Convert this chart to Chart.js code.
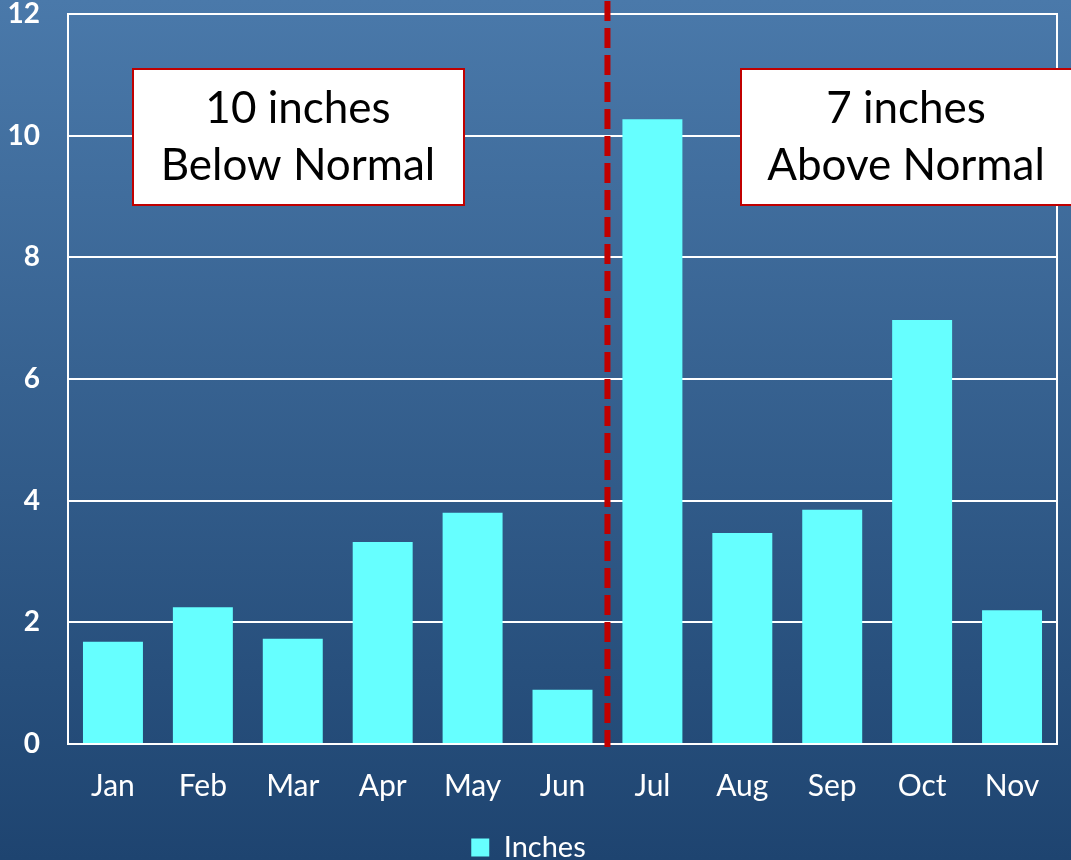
<!DOCTYPE html>
<html>
<head>
<meta charset="utf-8">
<script src="https://cdn.jsdelivr.net/npm/chart.js@4/dist/chart.umd.min.js"></script>
<style>
  html, body { margin: 0; padding: 0; }
  #wrap { width: 1071px; height: 860px; }
</style>
</head>
<body>
<div id="wrap"><canvas id="chart" width="1071" height="860"></canvas></div>
<script>
const months = ['Jan', 'Feb', 'Mar', 'Apr', 'May', 'Jun', 'Jul', 'Aug', 'Sep', 'Oct', 'Nov'];
const inches = [1.68, 2.25, 1.73, 3.32, 3.80, 0.89, 10.27, 3.47, 3.85, 6.97, 2.20];
const yTicks = [0, 2, 4, 6, 8, 10, 12];
const boxLines = [
  ['10 inches', 'Below Normal'],
  ['7 inches', 'Above Normal'],
];

const FONT = 'Lato, "Open Sans", sans-serif';

// gradient background, frame, divider and text boxes
const decor = {
  id: 'decor',
  beforeDraw(chart) {
    const { ctx, width, height } = chart;
    const g = ctx.createLinearGradient(0, 0, 0, height);
    g.addColorStop(0, '#4a79aa');
    g.addColorStop(1, '#1e4470');
    ctx.save();
    ctx.fillStyle = g;
    ctx.fillRect(0, 0, width, height);
    ctx.restore();
  },
  afterDraw(chart) {
    const { ctx, chartArea: a } = chart;
    const x = chart.scales.x;
    ctx.save();
    ctx.strokeStyle = '#ffffff';
    ctx.lineWidth = 2;
    ctx.beginPath();
    ctx.moveTo(a.left, a.top);
    ctx.lineTo(a.right, a.top);
    ctx.lineTo(a.right, a.bottom);
    ctx.stroke();

    // dashed split between Jun and Jul
    const xs = (x.getPixelForValue(5) + x.getPixelForValue(6)) / 2;
    ctx.strokeStyle = '#c00000';
    ctx.lineWidth = 6;
    ctx.setLineDash([20, 7]);
    ctx.beginPath();
    ctx.moveTo(xs, 1);
    ctx.lineTo(xs, a.bottom + 3);
    ctx.stroke();
    ctx.setLineDash([]);

    const boxes = [
      { l: 133, t: 69, w: 331, h: 136, cx: 298 },
      { l: 741, t: 69, w: 340, h: 136, cx: 906 },
    ];
    boxes.forEach((b, i) => {
      ctx.fillStyle = '#ffffff';
      ctx.fillRect(b.l, b.t, b.w, b.h);
      ctx.strokeStyle = '#c00000';
      ctx.lineWidth = 2;
      ctx.strokeRect(b.l, b.t, b.w, b.h);
      ctx.fillStyle = '#000000';
      ctx.font = '44px ' + FONT;
      ctx.textAlign = 'center';
      ctx.textBaseline = 'middle';
      ctx.fillText(boxLines[i][0], b.cx, b.t + 40);
      ctx.fillText(boxLines[i][1], b.cx, b.t + 97);
    });
    ctx.restore();
  },
};

new Chart(document.getElementById('chart'), {
  type: 'bar',
  data: {
    labels: months,
    datasets: [{
      label: 'Inches',
      data: inches,
      backgroundColor: '#66ffff',
      borderColor: '#66ffff',
      borderWidth: 0,
      barPercentage: 0.667,
      categoryPercentage: 1,
    }],
  },
  options: {
    responsive: false,
    animation: false,
    layout: { padding: { top: 14, right: 14, left: 0, bottom: -12 } },
    plugins: {
      legend: {
        position: 'bottom',
        labels: {
          color: '#ffffff',
          font: { family: FONT, size: 29 },
          boxWidth: 18,
          boxHeight: 18,
          padding: 0,
        },
      },
      tooltip: { enabled: false },
    },
    scales: {
      x: {
        grid: { display: false, drawTicks: false },
        border: { color: '#ffffff', width: 2 },
        ticks: {
          color: '#ffffff',
          font: { family: FONT, size: 30 },
          padding: 24,
        },
        afterFit(scale) {
          scale.height = 89;
          scale.paddingTop = 0;
        },
      },
      y: {
        min: 0,
        max: 12,
        afterBuildTicks(scale) { scale.ticks = yTicks.map((v) => ({ value: v })); },
        grid: { color: '#ffffff', lineWidth: 2, drawTicks: false },
        border: { color: '#ffffff', width: 2 },
        ticks: {
          color: '#ffffff',
          font: { family: FONT, size: 28, weight: 'bold' },
          padding: 28,
        },
        afterFit(scale) {
          scale.width = 68;
          scale.paddingTop = 0;
          scale.paddingBottom = 0;
        },
      },
    },
  },
  plugins: [decor],
});
</script>
</body>
</html>
